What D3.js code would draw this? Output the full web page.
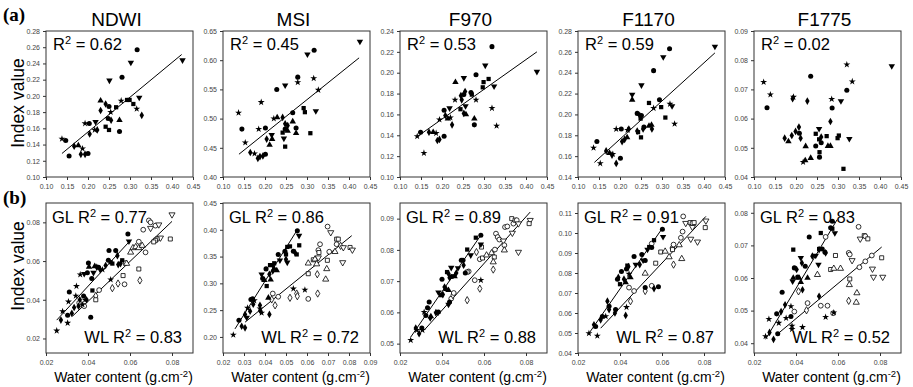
<!DOCTYPE html>
<html>
<head>
<meta charset="utf-8">
<script src="https://cdn.jsdelivr.net/npm/d3@7"></script>
<style>
  body { margin: 0; background: #fff; }
  svg { display: block; font-family: "Liberation Sans", Arial, sans-serif; }
</style>
</head>
<body>
<svg id="chart" width="913" height="387"></svg>
<script>
// ---- data: [water content, index value, marker] ----
// markers: c circle, s square, t triangle up, v triangle down, d diamond, * star
const indexNames = ["NDWI", "MSI", "F970", "F1170", "F1775"];

// row (a)
const xTicksA = [0.10, 0.15, 0.20, 0.25, 0.30, 0.35, 0.40, 0.45];
const ndwiA = [[0.138,0.147,"*"],[0.147,0.145,"c"],[0.155,0.126,"c"],[0.167,0.138,"d"],[0.177,0.139,"t"],[0.187,0.135,"*"],[0.183,0.128,"d"],[0.193,0.128,"d"],[0.200,0.129,"c"],[0.193,0.166,"*"],[0.203,0.166,"c"],[0.204,0.153,"d"],[0.216,0.158,"*"],[0.218,0.168,"v"],[0.222,0.158,"d"],[0.230,0.182,"d"],[0.230,0.194,"t"],[0.242,0.190,"d"],[0.250,0.187,"c"],[0.251,0.219,"v"],[0.242,0.162,"s"],[0.250,0.158,"s"],[0.248,0.172,"c"],[0.255,0.170,"d"],[0.254,0.180,"*"],[0.267,0.186,"s"],[0.275,0.170,"t"],[0.275,0.156,"c"],[0.281,0.223,"c"],[0.279,0.194,"*"],[0.293,0.195,"s"],[0.299,0.195,"s"],[0.302,0.241,"v"],[0.308,0.190,"s"],[0.316,0.184,"*"],[0.317,0.257,"c"],[0.322,0.198,"v"],[0.328,0.176,"d"],[0.425,0.244,"v"]];
const msiA = [[0.137,0.510,"*"],[0.145,0.482,"c"],[0.153,0.459,"*"],[0.165,0.442,"d"],[0.175,0.440,"*"],[0.183,0.432,"d"],[0.188,0.435,"d"],[0.195,0.436,"d"],[0.201,0.439,"c"],[0.185,0.482,"*"],[0.191,0.528,"*"],[0.201,0.484,"c"],[0.204,0.465,"d"],[0.211,0.455,"t"],[0.216,0.472,"v"],[0.217,0.465,"t"],[0.221,0.500,"*"],[0.229,0.502,"t"],[0.228,0.550,"c"],[0.242,0.502,"d"],[0.242,0.476,"s"],[0.245,0.466,"v"],[0.248,0.452,"s"],[0.248,0.557,"v"],[0.248,0.491,"d"],[0.248,0.482,"c"],[0.254,0.488,"d"],[0.254,0.479,"t"],[0.266,0.510,"c"],[0.266,0.495,"t"],[0.274,0.484,"c"],[0.274,0.475,"t"],[0.278,0.571,"c"],[0.278,0.562,"*"],[0.292,0.518,"s"],[0.295,0.511,"s"],[0.301,0.610,"v"],[0.308,0.475,"s"],[0.316,0.569,"*"],[0.317,0.617,"c"],[0.321,0.513,"v"],[0.327,0.549,"*"],[0.426,0.632,"v"]];
const f970A = [[0.141,0.139,"*"],[0.149,0.143,"c"],[0.157,0.123,"*"],[0.169,0.143,"d"],[0.179,0.143,"t"],[0.186,0.142,"*"],[0.189,0.135,"d"],[0.194,0.136,"d"],[0.194,0.155,"*"],[0.205,0.139,"c"],[0.205,0.164,"c"],[0.208,0.159,"d"],[0.214,0.156,"t"],[0.218,0.166,"v"],[0.220,0.157,"*"],[0.224,0.150,"d"],[0.231,0.174,"*"],[0.232,0.191,"t"],[0.244,0.165,"s"],[0.245,0.178,"d"],[0.247,0.174,"d"],[0.252,0.195,"v"],[0.252,0.161,"d"],[0.252,0.179,"c"],[0.255,0.182,"d"],[0.256,0.168,"v"],[0.257,0.160,"t"],[0.269,0.181,"c"],[0.271,0.179,"s"],[0.277,0.156,"t"],[0.277,0.150,"c"],[0.281,0.198,"c"],[0.281,0.174,"*"],[0.297,0.186,"s"],[0.299,0.191,"s"],[0.303,0.207,"v"],[0.311,0.194,"s"],[0.319,0.225,"c"],[0.319,0.166,"*"],[0.324,0.187,"v"],[0.330,0.149,"*"],[0.426,0.201,"v"]];
const f1170A = [[0.137,0.168,"*"],[0.145,0.174,"c"],[0.153,0.153,"*"],[0.167,0.165,"d"],[0.175,0.163,"t"],[0.181,0.161,"d"],[0.183,0.162,"*"],[0.191,0.186,"*"],[0.191,0.153,"d"],[0.201,0.158,"c"],[0.203,0.186,"c"],[0.205,0.174,"d"],[0.211,0.176,"d"],[0.217,0.178,"t"],[0.218,0.185,"*"],[0.221,0.186,"d"],[0.229,0.219,"v"],[0.229,0.214,"t"],[0.241,0.201,"c"],[0.241,0.184,"d"],[0.243,0.183,"s"],[0.247,0.199,"d"],[0.249,0.196,"s"],[0.250,0.178,"s"],[0.251,0.228,"v"],[0.251,0.199,"c"],[0.255,0.186,"d"],[0.257,0.188,"c"],[0.269,0.211,"s"],[0.269,0.189,"t"],[0.275,0.190,"t"],[0.276,0.186,"d"],[0.280,0.242,"c"],[0.280,0.206,"*"],[0.294,0.214,"c"],[0.298,0.207,"s"],[0.303,0.255,"v"],[0.308,0.197,"s"],[0.318,0.263,"c"],[0.319,0.210,"*"],[0.324,0.208,"v"],[0.330,0.191,"*"],[0.426,0.265,"v"]];
const f1775A = [[0.123,0.0725,"*"],[0.139,0.0682,"*"],[0.131,0.0637,"c"],[0.173,0.0533,"d"],[0.182,0.0522,"t"],[0.194,0.0674,"*"],[0.192,0.0668,"d"],[0.190,0.0542,"d"],[0.199,0.0556,"d"],[0.207,0.0571,"d"],[0.208,0.0550,"c"],[0.211,0.0533,"d"],[0.217,0.0451,"*"],[0.222,0.0457,"t"],[0.223,0.0505,"t"],[0.227,0.0660,"d"],[0.235,0.0745,"c"],[0.235,0.0465,"t"],[0.247,0.0548,"s"],[0.247,0.0506,"c"],[0.255,0.0565,"v"],[0.255,0.0529,"s"],[0.256,0.0485,"s"],[0.256,0.0468,"c"],[0.260,0.0537,"d"],[0.260,0.0517,"c"],[0.273,0.0540,"s"],[0.276,0.0506,"t"],[0.282,0.0506,"t"],[0.282,0.0590,"d"],[0.285,0.0667,"*"],[0.286,0.0636,"c"],[0.299,0.0533,"s"],[0.302,0.0542,"s"],[0.307,0.0660,"v"],[0.313,0.0428,"s"],[0.321,0.0785,"*"],[0.321,0.0697,"c"],[0.327,0.0531,"v"],[0.334,0.0727,"*"],[0.428,0.0780,"v"]];
const yTicksA = [
  [0.10, 0.12, 0.14, 0.16, 0.18, 0.20, 0.22, 0.24, 0.26, 0.28],
  [0.40, 0.45, 0.50, 0.55, 0.60, 0.65],
  [0.10, 0.12, 0.14, 0.16, 0.18, 0.20, 0.22, 0.24],
  [0.14, 0.16, 0.18, 0.20, 0.22, 0.24, 0.26, 0.28],
  [0.04, 0.05, 0.06, 0.07, 0.08, 0.09]
];
const r2A = ["0.62", "0.45", "0.53", "0.59", "0.02"];
// regression line end points, row (a) (F1775 has none)
const fitsA = [
  [[0.138,0.129],[0.423,0.251]],
  [[0.138,0.439],[0.424,0.604]],
  [[0.142,0.139],[0.426,0.220]],
  [[0.139,0.154],[0.426,0.259]],
  null
];

// row (b): GL = filled, WL = open
const xTicksB = [0.02, 0.04, 0.06, 0.08];
const xTicksMsiB = [0.02, 0.03, 0.04, 0.05, 0.06, 0.07, 0.08, 0.09];
const ndwiGL = [[0.0251,0.024,"*"],[0.0271,0.0295,"d"],[0.0279,0.034,"*"],[0.0303,0.028,"*"],[0.0303,0.032,"c"],[0.0311,0.044,"c"],[0.0307,0.039,"*"],[0.0323,0.033,"d"],[0.0334,0.036,"d"],[0.0342,0.042,"*"],[0.0345,0.047,"*"],[0.0355,0.0367,"d"],[0.0361,0.040,"d"],[0.0374,0.0375,"*"],[0.0379,0.042,"c"],[0.0386,0.040,"*"],[0.0393,0.040,"d"],[0.0397,0.054,"c"],[0.0402,0.059,"c"],[0.0405,0.057,"t"],[0.0413,0.031,"c"],[0.0418,0.051,"c"],[0.0421,0.0448,"s"],[0.0426,0.054,"v"],[0.0432,0.0573,"t"],[0.0442,0.0568,"d"],[0.045,0.0568,"c"],[0.0458,0.0556,"d"],[0.0469,0.0556,"*"],[0.0484,0.0577,"d"],[0.0497,0.0604,"c"],[0.05,0.0655,"c"],[0.0508,0.0594,"s"],[0.0516,0.0587,"s"],[0.0532,0.0654,"c"],[0.054,0.0628,"d"],[0.0544,0.0582,"d"],[0.0555,0.0587,"d"],[0.0563,0.0604,"s"],[0.0508,0.0504,"*"],[0.059,0.074,"c"],[0.0595,0.0702,"v"],[0.0363,0.053,"*"],[0.0382,0.0534,"v"]];
const ndwiWL = [[0.0358,0.0384,"c"],[0.0382,0.0367,"c"],[0.0437,0.042,"d"],[0.0453,0.045,"c"],[0.0437,0.040,"s"],[0.0516,0.046,"d"],[0.0543,0.0484,"d"],[0.0574,0.048,"c"],[0.0567,0.0525,"s"],[0.0579,0.059,"c"],[0.0584,0.0587,"t"],[0.0603,0.0645,"t"],[0.0614,0.0668,"t"],[0.0627,0.0673,"t"],[0.0642,0.0668,"t"],[0.0642,0.070,"c"],[0.0658,0.068,"t"],[0.0642,0.0559,"s"],[0.0647,0.050,"d"],[0.0663,0.0762,"c"],[0.069,0.081,"c"],[0.0698,0.080,"c"],[0.0698,0.077,"v"],[0.0721,0.0783,"c"],[0.0737,0.0788,"v"],[0.0745,0.072,"v"],[0.0729,0.0714,"s"],[0.0721,0.0707,"s"],[0.0713,0.0699,"s"],[0.0792,0.0714,"s"],[0.08,0.084,"v"],[0.0674,0.0645,"c"]];
const msiGL = [[0.0249,0.204,"*"],[0.0276,0.231,"c"],[0.0289,0.220,"d"],[0.0305,0.217,"d"],[0.0305,0.242,"d"],[0.0313,0.236,"v"],[0.0317,0.254,"*"],[0.0329,0.248,"d"],[0.0333,0.270,"c"],[0.0341,0.271,"c"],[0.0344,0.261,"d"],[0.0349,0.268,"*"],[0.0376,0.259,"d"],[0.0379,0.248,"d"],[0.0384,0.245,"*"],[0.0376,0.253,"*"],[0.0384,0.317,"v"],[0.0389,0.309,"c"],[0.0397,0.306,"t"],[0.0405,0.327,"c"],[0.0408,0.295,"s"],[0.0421,0.317,"d"],[0.0424,0.334,"s"],[0.0427,0.307,"t"],[0.0437,0.334,"v"],[0.0437,0.323,"d"],[0.0444,0.3375,"s"],[0.0444,0.327,"t"],[0.0456,0.324,"t"],[0.0463,0.354,"c"],[0.0471,0.343,"v"],[0.0495,0.360,"c"],[0.05,0.354,"s"],[0.0506,0.368,"s"],[0.05,0.345,"d"],[0.0506,0.339,"v"],[0.0519,0.369,"s"],[0.0535,0.360,"c"],[0.0543,0.3575,"d"],[0.0551,0.354,"s"],[0.0563,0.371,"s"],[0.0554,0.398,"c"],[0.0562,0.389,"v"],[0.0421,0.242,"d"],[0.0535,0.29,"*"],[0.059,0.288,"*"],[0.0416,0.273,"t"]];
const msiWL = [[0.0437,0.281,"c"],[0.0448,0.259,"d"],[0.0463,0.275,"c"],[0.0432,0.27,"d"],[0.0519,0.273,"d"],[0.0551,0.281,"d"],[0.0554,0.276,"d"],[0.0606,0.271,"c"],[0.0606,0.318,"s"],[0.0606,0.3375,"t"],[0.063,0.344,"s"],[0.0638,0.345,"t"],[0.0646,0.336,"t"],[0.0649,0.317,"d"],[0.0651,0.281,"d"],[0.0654,0.362,"c"],[0.0662,0.373,"c"],[0.0657,0.3575,"s"],[0.0654,0.348,"v"],[0.0697,0.343,"s"],[0.0694,0.327,"t"],[0.0689,0.3075,"t"],[0.0698,0.406,"c"],[0.0713,0.395,"v"],[0.0706,0.359,"c"],[0.0733,0.359,"t"],[0.0741,0.3825,"s"],[0.0749,0.3825,"s"],[0.0741,0.373,"c"],[0.076,0.37,"d"],[0.077,0.339,"v"],[0.0773,0.367,"v"],[0.0805,0.367,"s"],[0.0816,0.3625,"v"]];
const f970GL = [[0.0251,0.0511,"*"],[0.0275,0.055,"d"],[0.028,0.0543,"*"],[0.0291,0.0532,"d"],[0.0304,0.055,"c"],[0.0307,0.0543,"*"],[0.0315,0.0601,"*"],[0.0323,0.059,"c"],[0.0331,0.0615,"c"],[0.0339,0.0633,"c"],[0.0344,0.0582,"d"],[0.0347,0.0587,"t"],[0.0371,0.0599,"d"],[0.0376,0.0598,"*"],[0.0383,0.0601,"c"],[0.0383,0.0664,"v"],[0.0396,0.0655,"s"],[0.040,0.0706,"c"],[0.0404,0.0657,"d"],[0.0412,0.0681,"d"],[0.042,0.0674,"t"],[0.0424,0.0729,"s"],[0.0431,0.0724,"d"],[0.0431,0.0671,"t"],[0.0436,0.0711,"d"],[0.0444,0.0743,"v"],[0.0447,0.0715,"c"],[0.046,0.0715,"t"],[0.0468,0.0726,"d"],[0.0476,0.0742,"v"],[0.0492,0.0767,"c"],[0.050,0.0767,"c"],[0.0503,0.0751,"d"],[0.0511,0.0726,"c"],[0.052,0.0801,"s"],[0.0537,0.0783,"v"],[0.0561,0.0839,"s"],[0.0585,0.0847,"c"],[0.0585,0.0818,"v"],[0.0436,0.0633,"c"],[0.0431,0.0625,"v"],[0.0585,0.0703,"*"]];
const f970WL = [[0.0444,0.0644,"c"],[0.0452,0.0655,"d"],[0.0456,0.0662,"c"],[0.052,0.0639,"d"],[0.0527,0.0731,"c"],[0.052,0.0729,"s"],[0.0556,0.0703,"c"],[0.058,0.0676,"d"],[0.058,0.077,"c"],[0.0564,0.0793,"d"],[0.0588,0.0809,"s"],[0.0593,0.0774,"s"],[0.0612,0.0783,"t"],[0.0636,0.079,"t"],[0.0649,0.0777,"s"],[0.0652,0.0801,"c"],[0.0644,0.0761,"t"],[0.0644,0.0737,"d"],[0.0657,0.0852,"c"],[0.0665,0.0841,"c"],[0.0673,0.0833,"c"],[0.0692,0.0829,"v"],[0.0697,0.0815,"c"],[0.0697,0.0799,"t"],[0.070,0.0873,"c"],[0.0711,0.0875,"c"],[0.0732,0.090,"s"],[0.074,0.0884,"c"],[0.0748,0.0895,"s"],[0.0756,0.0895,"c"],[0.0764,0.0884,"v"],[0.0764,0.0793,"v"],[0.0735,0.0854,"v"],[0.082,0.0895,"v"],[0.0815,0.0884,"s"]];
const f1170GL = [[0.0252,0.0498,"*"],[0.0276,0.0541,"d"],[0.0284,0.0532,"c"],[0.0292,0.0486,"*"],[0.0308,0.0566,"d"],[0.0316,0.0583,"c"],[0.0332,0.0583,"*"],[0.034,0.0659,"d"],[0.0348,0.0634,"c"],[0.0348,0.0617,"d"],[0.0376,0.060,"d"],[0.0379,0.0617,"c"],[0.0388,0.0769,"c"],[0.0392,0.0778,"d"],[0.040,0.0744,"s"],[0.0407,0.0808,"c"],[0.0419,0.0769,"d"],[0.0427,0.0753,"t"],[0.0431,0.082,"c"],[0.0435,0.0837,"s"],[0.044,0.0832,"d"],[0.0443,0.0795,"*"],[0.045,0.0778,"t"],[0.0467,0.0883,"c"],[0.0475,0.0842,"v"],[0.0494,0.0842,"d"],[0.0504,0.0893,"c"],[0.051,0.0863,"v"],[0.052,0.0863,"c"],[0.0531,0.0917,"v"],[0.0539,0.093,"s"],[0.0551,0.0927,"c"],[0.0562,0.0964,"s"],[0.0602,0.1019,"c"],[0.0605,0.0981,"v"],[0.0427,0.0588,"d"],[0.052,0.0727,"c"],[0.0562,0.0722,"d"],[0.0583,0.0731,"c"],[0.0431,0.0629,"*"]];
const f1170WL = [[0.0443,0.0727,"c"],[0.045,0.0659,"d"],[0.0467,0.071,"c"],[0.052,0.071,"d"],[0.0551,0.0736,"c"],[0.052,0.0798,"t"],[0.0551,0.0947,"c"],[0.057,0.0849,"s"],[0.0594,0.0905,"s"],[0.0615,0.0908,"t"],[0.0634,0.088,"t"],[0.065,0.0925,"c"],[0.065,0.0917,"s"],[0.0655,0.0942,"c"],[0.0655,0.0842,"d"],[0.0682,0.094,"t"],[0.069,0.0976,"c"],[0.0698,0.1007,"c"],[0.0694,0.0871,"t"],[0.0701,0.1083,"c"],[0.0713,0.1049,"v"],[0.0734,0.1052,"s"],[0.0745,0.1049,"c"],[0.0753,0.1052,"s"],[0.0745,0.1029,"v"],[0.0769,0.0956,"v"],[0.0809,0.1061,"v"],[0.0806,0.1027,"s"],[0.0737,0.097,"v"]];
const f1775GL = [[0.0255,0.0421,"*"],[0.0271,0.0474,"*"],[0.0274,0.0433,"d"],[0.0293,0.0412,"d"],[0.0308,0.049,"c"],[0.0313,0.0429,"c"],[0.0318,0.0462,"*"],[0.0329,0.0497,"d"],[0.0334,0.0556,"c"],[0.0348,0.0518,"d"],[0.0353,0.0477,"*"],[0.0376,0.0513,"*"],[0.0376,0.0482,"c"],[0.0381,0.0453,"*"],[0.0381,0.0443,"*"],[0.0384,0.059,"v"],[0.0387,0.060,"t"],[0.0387,0.0687,"s"],[0.0392,0.0631,"c"],[0.0403,0.0626,"d"],[0.0408,0.0603,"c"],[0.0415,0.060,"t"],[0.0423,0.0587,"t"],[0.0423,0.0662,"v"],[0.0428,0.0646,"d"],[0.0431,0.0564,"d"],[0.0431,0.0449,"*"],[0.0444,0.0636,"c"],[0.0455,0.060,"t"],[0.0463,0.0726,"c"],[0.0478,0.0667,"d"],[0.0494,0.0669,"v"],[0.051,0.0689,"s"],[0.051,0.0687,"d"],[0.0518,0.0738,"s"],[0.0525,0.0689,"c"],[0.0538,0.0679,"c"],[0.0541,0.0677,"d"],[0.0565,0.0754,"c"],[0.0573,0.0774,"c"],[0.0573,0.0751,"s"],[0.0585,0.0738,"v"],[0.0507,0.0641,"v"],[0.051,0.0544,"d"],[0.0541,0.048,"*"],[0.058,0.0494,"*"]];
const f1775WL = [[0.0392,0.0497,"c"],[0.0412,0.0559,"d"],[0.045,0.0501,"d"],[0.0455,0.0523,"c"],[0.0502,0.061,"t"],[0.0518,0.0515,"c"],[0.055,0.0515,"c"],[0.0577,0.0492,"c"],[0.0541,0.0726,"c"],[0.0565,0.0626,"s"],[0.058,0.0629,"t"],[0.0588,0.0669,"s"],[0.0612,0.0629,"t"],[0.0656,0.0597,"s"],[0.0654,0.0579,"t"],[0.0651,0.0677,"c"],[0.0656,0.0672,"c"],[0.0667,0.0654,"v"],[0.0651,0.053,"d"],[0.0687,0.0525,"t"],[0.069,0.0554,"t"],[0.0698,0.0757,"c"],[0.0702,0.0633,"c"],[0.0706,0.072,"v"],[0.0725,0.073,"s"],[0.073,0.0728,"c"],[0.0742,0.072,"s"],[0.073,0.0651,"c"],[0.0761,0.0669,"c"],[0.0764,0.0628,"v"],[0.0769,0.0603,"v"],[0.0813,0.0603,"v"],[0.0808,0.0662,"s"]];
const yDomainsB = [[0.0125, 0.09], [0.17, 0.45], [0.047, 0.095], [0.04, 0.115], [0.037, 0.083]];
const yTicksB = [
  [0.02, 0.04, 0.06, 0.08],
  [0.20, 0.25, 0.30, 0.35, 0.40, 0.45],
  [0.05, 0.06, 0.07, 0.08, 0.09],
  [0.04, 0.05, 0.06, 0.07, 0.08, 0.09, 0.10, 0.11],
  [0.04, 0.05, 0.06, 0.07, 0.08]
];
const r2GL = ["0.77", "0.86", "0.89", "0.91", "0.83"];
const r2WL = ["0.83", "0.72", "0.88", "0.87", "0.52"];
const fitsGL = [
  [[0.0251,0.0295],[0.0598,0.0702]],
  [[0.0257,0.215],[0.0554,0.400]],
  [[0.0251,0.0521],[0.0585,0.0847]],
  [[0.0252,0.0498],[0.0602,0.1024]],
  [[0.0255,0.0412],[0.0596,0.0779]]
];
const fitsWL = [
  [[0.0326,0.0315],[0.0800,0.0805]],
  [[0.0305,0.2275],[0.0813,0.389]],
  [[0.0315,0.0543],[0.0820,0.0921]],
  [[0.0308,0.0524],[0.0809,0.1083]],
  [[0.0308,0.0426],[0.0808,0.0695]]
];

// ---- layout ----
const lefts = [46, 223, 400, 578, 754];
const pw = 147;
const rowA = { top: 31, h: 146 };
const rowB = { top: 203, h: 150 };

const svg = d3.select("#chart");

const symbols = { c: d3.symbolCircle, s: d3.symbolSquare, t: d3.symbolTriangle, v: d3.symbolTriangle, d: d3.symbolDiamond, "*": d3.symbolStar };
const sizes = { c: 20, s: 18, t: 18, v: 18, d: 17, "*": 15 };
const fmt = d3.format(".2f");

function r2Label(g, x, y, prefix, val, anchor) {
  const t = g.append("text").attr("x", x).attr("y", y)
    .attr("font-size", 16.5).attr("text-anchor", anchor || "start").attr("fill", "#000");
  t.append("tspan").text(prefix + "R");
  t.append("tspan").attr("font-size", 11).attr("dy", -6).text("2");
  t.append("tspan").attr("dy", 6).text(" = " + val);
}

function panel(i, row, xDomain, xTicks, yDomain, yTicks, sets, fits) {
  const g = svg.append("g").attr("transform", `translate(${lefts[i]},${row.top})`);
  const x = d3.scaleLinear().domain(xDomain).range([0, pw]);
  const y = d3.scaleLinear().domain(yDomain).range([row.h, 0]);

  const ya = g.append("g").call(d3.axisLeft(y).tickValues(yTicks).tickSize(3).tickPadding(3).tickFormat(fmt));
  const xa = g.append("g").attr("transform", `translate(0,${row.h})`)
    .call(d3.axisBottom(x).tickValues(xTicks).tickSize(3).tickPadding(4).tickFormat(fmt));
  [ya, xa].forEach(a => {
    a.select(".domain").remove();
    a.selectAll("line").attr("stroke", "#333");
    a.selectAll("text").attr("font-size", 7).attr("fill", "#444")
      .attr("font-family", "'Liberation Sans', Arial, sans-serif");
  });

  g.append("rect").attr("width", pw).attr("height", row.h)
    .attr("fill", "none").attr("stroke", "#333").attr("stroke-width", 1);

  const line = d3.line().x(d => x(d[0])).y(d => y(d[1]));
  fits.forEach(f => {
    if (f) g.append("path").attr("d", line(f)).attr("fill", "none").attr("stroke", "#000").attr("stroke-width", 1);
  });

  sets.forEach(s => {
    g.append("g").selectAll("path").data(s.pts).enter().append("path")
      .attr("d", d => d3.symbol().type(symbols[d[2]]).size(sizes[d[2]] * (s.open ? 0.9 : 1))())
      .attr("transform", d => `translate(${x(d[0])},${y(d[1])})` + (d[2] === "v" ? " rotate(180)" : ""))
      .attr("fill", s.open ? "#fff" : "#000")
      .attr("stroke", s.open ? "#000" : "none")
      .attr("stroke-width", 0.8);
  });
  return g;
}

// row (a)
const dataA = [ndwiA, msiA, f970A, f1170A, f1775A];
dataA.forEach((pts, i) => {
  const g = panel(i, rowA, [0.10, 0.45], xTicksA, [yTicksA[i][0], yTicksA[i][yTicksA[i].length - 1]], yTicksA[i],
    [{ pts: pts, open: false }], [fitsA[i]]);
  r2Label(g, 7, 19, "", r2A[i]);
  svg.append("text").attr("x", lefts[i] + pw / 2 - 3).attr("y", 26)
    .attr("text-anchor", "middle").attr("font-size", 19).text(indexNames[i]);
});

// row (b)
const gl = [ndwiGL, msiGL, f970GL, f1170GL, f1775GL];
const wl = [ndwiWL, msiWL, f970WL, f1170WL, f1775WL];
gl.forEach((pts, i) => {
  const g = panel(i, rowB, [0.02, 0.09], i === 1 ? xTicksMsiB : xTicksB, yDomainsB[i], yTicksB[i],
    [{ pts: wl[i], open: true }, { pts: pts, open: false }], [fitsGL[i], fitsWL[i]]);
  r2Label(g, 6, 20, "GL ", r2GL[i]);
  r2Label(g, pw - 11, rowB.h - 10, "WL ", r2WL[i], "end");
  const t = svg.append("text").attr("x", lefts[i] + pw / 2 + 4).attr("y", 382)
    .attr("text-anchor", "middle").attr("font-size", 14);
  t.append("tspan").text("Water content (g.cm");
  t.append("tspan").attr("font-size", 9.5).attr("dy", -5).text("-2");
  t.append("tspan").attr("dy", 5).text(")");
});

// row letters and y titles
svg.append("text").attr("x", 3).attr("y", 21).attr("font-family", "'Liberation Serif', 'Times New Roman', serif")
  .attr("font-weight", "bold").attr("font-size", 19).text("(a)");
svg.append("text").attr("x", 3).attr("y", 204).attr("font-family", "'Liberation Serif', 'Times New Roman', serif")
  .attr("font-weight", "bold").attr("font-size", 19).text("(b)");
[103, 266].forEach(cy => {
  svg.append("text").attr("transform", `translate(24,${cy}) rotate(-90)`)
    .attr("text-anchor", "middle").attr("font-size", 17.5).text("Index value");
});
</script>
</body>
</html>
